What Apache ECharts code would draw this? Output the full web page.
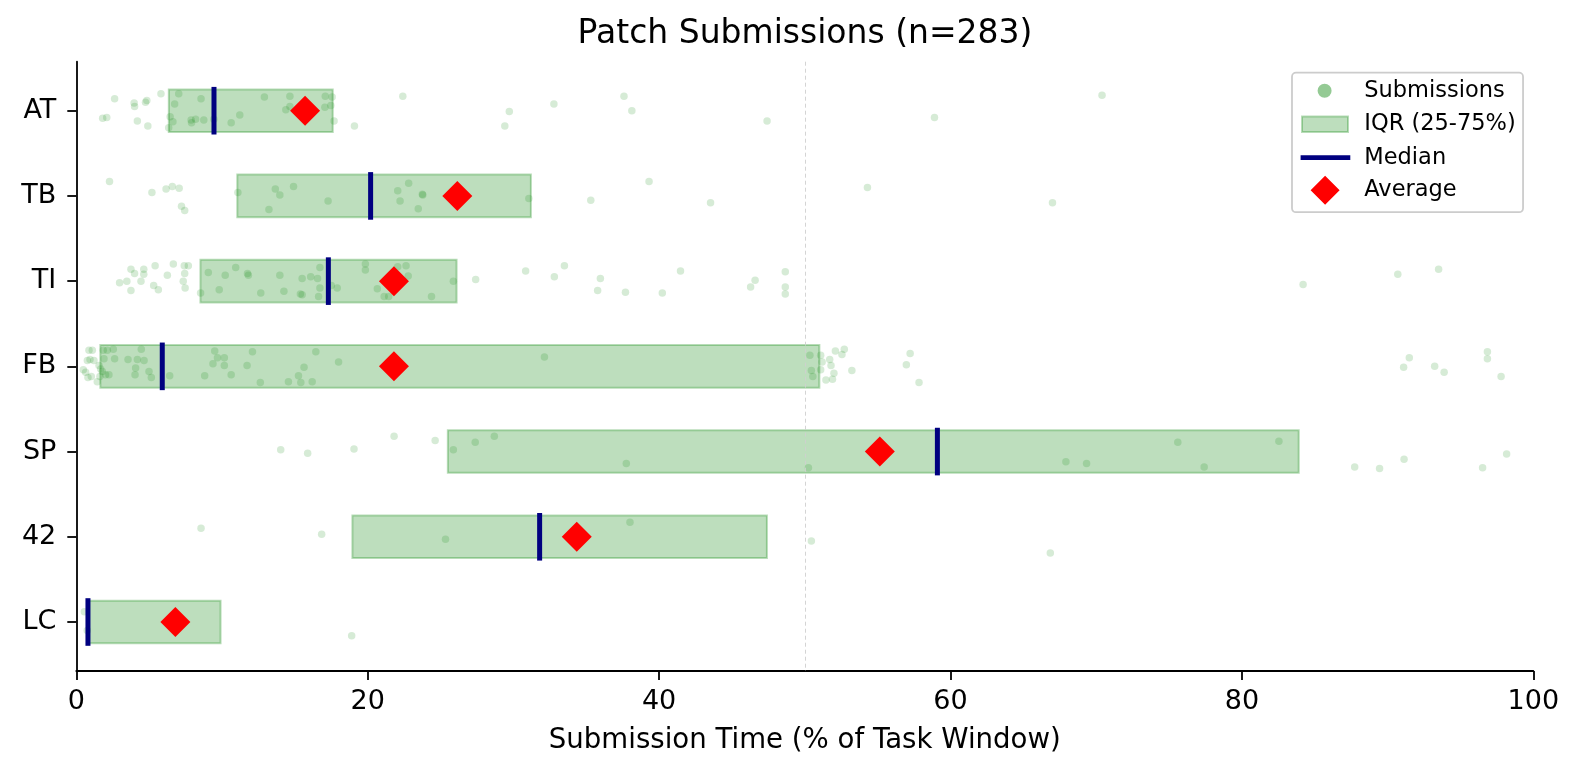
<!DOCTYPE html>
<html>
<head>
<meta charset="utf-8">
<script src="https://cdn.jsdelivr.net/npm/echarts@6/dist/echarts.min.js"></script>
<style>
html,body{margin:0;padding:0;background:#fff;}
#chart{width:1580px;height:776px;}
</style>
</head>
<body>
<div id="chart"></div>
<script>
// Categories, top to bottom
const categories = ['AT', 'TB', 'TI', 'FB', 'SP', '42', 'LC'];
// Box statistics (% of task window)
const q1Values     = [6.35, 11.05, 8.52, 1.65, 25.5, 18.95, 0.8];
const q3Values     = [17.6, 31.2, 26.1, 51.0, 83.9, 47.4, 9.9];
const medianValues = [9.45, 20.2, 17.3, 5.9, 59.1, 31.8, 0.8];
const meanValues   = [15.7, 26.15, 21.8, 21.8, 55.15, 34.35, 6.8];

// Individual submissions: [time %, vertical jitter in category units]
const ptsAT = [[2.63,-0.14],[3.97,-0.09],[4.0,-0.05],[4.75,-0.10],[4.84,-0.12],[5.81,-0.20],[7.03,-0.20],[6.75,-0.08],[8.56,-0.14],[12.91,-0.16],[14.66,-0.17],[14.66,-0.05],[17.09,-0.17],[17.56,-0.16],[17.47,-0.06],[17.06,-0.04],[14.38,-0.01],[11.22,0.05],[10.63,0.14],[6.44,0.07],[6.63,0.13],[7.88,0.11],[8.19,0.10],[8.75,0.11],[7.91,0.14],[9.44,0.10],[6.34,0.20],[17.69,0.12],[19.09,0.18],[1.81,0.09],[2.09,0.08],[4.19,0.12],[4.91,0.18],[22.41,-0.17],[29.72,0.01],[29.41,0.18],[32.78,-0.08],[37.59,-0.17],[38.13,0.0],[47.41,0.12],[70.4,-0.18],[58.9,0.08]];
const ptsTB = [[2.28,-0.17],[5.19,-0.04],[6.16,-0.08],[6.59,-0.11],[7.06,-0.09],[7.22,0.12],[7.44,0.17],[11.09,-0.04],[13.66,-0.08],[13.97,-0.01],[14.91,-0.11],[13.22,0.16],[17.28,0.06],[22.06,-0.06],[22.81,-0.15],[22.22,0.06],[23.78,-0.01],[23.75,-0.02],[23.47,0.15],[31.06,0.03],[35.31,0.05],[39.31,-0.17],[43.53,0.08],[54.3,-0.10],[67.0,0.08]];
const ptsTI = [[3.75,-0.14],[4.0,-0.09],[4.63,-0.14],[4.63,-0.08],[5.41,-0.18],[6.25,-0.07],[6.66,-0.20],[7.41,-0.18],[7.69,-0.18],[7.44,-0.09],[2.97,0.02],[3.47,0.0],[4.44,0.0],[3.75,0.11],[5.31,0.05],[5.63,0.10],[7.34,0.0],[7.47,0.08],[8.53,0.14],[9.06,-0.10],[10.22,-0.07],[10.94,-0.16],[11.75,-0.09],[11.81,-0.07],[13.97,-0.07],[15.5,-0.03],[16.09,-0.05],[16.72,-0.16],[16.56,-0.03],[16.72,0.08],[16.63,0.18],[15.5,0.16],[15.38,0.15],[14.25,0.12],[12.66,0.14],[9.81,0.10],[17.91,0.08],[17.5,0.05],[19.84,-0.20],[19.84,-0.13],[22.06,-0.17],[22.63,-0.18],[22.78,-0.06],[20.66,0.09],[21.13,0.18],[21.44,0.18],[24.38,0.18],[25.88,0.0],[27.41,-0.02],[30.84,-0.12],[32.81,-0.05],[33.5,-0.18],[35.97,-0.03],[35.78,0.11],[37.69,0.13],[40.22,0.14],[41.47,-0.12],[46.28,0.07],[46.59,-0.01],[48.66,-0.11],[48.66,0.07],[48.66,0.15],[84.2,0.04],[90.7,-0.08],[93.5,-0.14]];
const ptsFB = [[0.87,-0.19],[1.10,-0.19],[0.76,-0.07],[0.94,-0.08],[1.21,-0.07],[0.48,0.04],[0.64,0.07],[0.80,0.13],[1.03,0.12],[1.56,-0.01],[1.67,0.03],[1.79,0.06],[1.62,0.12],[2.01,0.10],[2.24,0.10],[1.85,-0.19],[2.13,-0.19],[2.54,-0.20],[2.63,-0.09],[1.90,-0.09],[3.55,-0.08],[4.19,-0.08],[4.07,0.02],[4.65,-0.07],[4.46,-0.20],[4.99,0.06],[5.15,0.13],[4.03,0.10],[6.41,0.11],[1.44,0.18],[8.81,0.11],[9.38,-0.03],[9.5,-0.18],[9.69,-0.10],[10.16,-0.10],[10.16,-0.01],[10.63,0.10],[11.72,-0.01],[12.09,-0.17],[12.63,0.19],[14.56,0.18],[15.41,0.19],[15.25,0.11],[15.63,0.01],[16.19,0.18],[16.44,-0.17],[18.0,-0.05],[32.13,-0.11],[50.35,-0.13],[51.09,-0.13],[51.19,-0.05],[51.71,-0.08],[51.8,-0.01],[52.1,-0.18],[52.55,-0.14],[52.71,-0.20],[50.45,0.05],[50.55,0.12],[51.09,0.04],[52.0,0.08],[51.45,0.16],[51.9,0.15],[53.23,0.05],[57.23,-0.15],[56.97,-0.02],[57.84,0.19],[91.49,-0.10],[91.1,0.01],[93.23,0.0],[93.88,0.07],[96.85,-0.17],[96.85,-0.09],[97.79,0.12]];
const ptsSP = [[14.03,-0.02],[15.88,0.02],[19.06,-0.03],[21.81,-0.18],[24.63,-0.13],[25.88,-0.02],[27.38,-0.11],[28.69,-0.18],[37.75,0.14],[50.25,0.19],[67.92,0.12],[69.34,0.14],[75.6,-0.11],[77.41,0.18],[82.54,-0.12],[87.74,0.18],[89.45,0.20],[91.13,0.09],[96.52,0.19],[98.17,0.03]];
const pts42 = [[8.56,-0.10],[16.84,-0.03],[25.34,0.03],[38.0,-0.17],[50.45,0.05],[66.85,0.19]];
const ptsLC = [[18.9,0.16],[0.55,-0.12],[0.75,0.10]];

const xTicks = [0, 20, 40, 60, 80, 100];
const referenceLineX = 50;

const pointGroups = [ptsAT, ptsTB, ptsTI, ptsFB, ptsSP, pts42, ptsLC];

const FONT = 'DejaVu Sans';
const pointData = [];
pointGroups.forEach((grp, ci) => grp.forEach(p => pointData.push([p[0], ci + p[1]])));
const boxData = categories.map((c, i) => [q1Values[i], q3Values[i], i]);
const medianData = categories.map((c, i) => [medianValues[i], i]);
const meanData = categories.map((c, i) => [meanValues[i], i]);
const catIdx = categories.map((c, i) => i);

const A = 'M0,0L0.01,0M59,30L58.99,30';
const iconCircle = 'path://' + A + 'M17.3,15A7,7,0,1,0,31.3,15A7,7,0,1,0,17.3,15Z';
const iconRect = 'path://' + A + 'M1.7,7.2L47.7,7.2L47.7,22.8L1.7,22.8Z';
const iconLine = 'path://' + A + 'M0.3,12.65L50,12.65L50,17.35L0.3,17.35Z';
const iconDiamond = 'path://' + A + 'M24.8,0.5L39.3,15L24.8,29.5L10.3,15Z';

const chart = echarts.init(document.getElementById('chart'), null, {renderer: 'canvas'});
chart.setOption({
  animation: false,
  backgroundColor: '#ffffff',
  textStyle: {fontFamily: FONT},
  title: {
    text: 'Patch Submissions (n=283)',
    left: 800, top: 12.5, textAlign: 'center',
    textStyle: {fontSize: 33, fontWeight: 'normal', color: '#000', fontFamily: FONT}
  },
  legend: {
    orient: 'vertical', left: 1292, top: 72.7,
    padding: [3, 7.3, 7, 7.3],
    itemWidth: 59, itemHeight: 30, itemGap: 2.5,
    backgroundColor: 'rgba(255,255,255,0.8)',
    borderColor: '#cccccc', borderWidth: 1.8, borderRadius: 4,
    textStyle: {fontSize: 22.5, color: '#000', fontFamily: FONT},
    data: [
      {name: 'Submissions', icon: iconCircle, itemStyle: {color: 'rgba(0,128,0,0.42)', borderWidth: 0, opacity: 1}},
      {name: 'IQR (25-75%)', icon: iconRect, itemStyle: {color: 'rgba(0,128,0,0.26)', borderColor: 'rgba(0,128,0,0.28)', borderWidth: 2, opacity: 1}},
      {name: 'Median', icon: iconLine, itemStyle: {color: '#000080', borderWidth: 0, opacity: 1}},
      {name: 'Average', icon: iconDiamond, itemStyle: {color: '#ff0000', borderWidth: 0, opacity: 1}}
    ]
  },
  grid: {left: 76.3, right: 46.7, top: 61.7, bottom: 105, containLabel: false},
  xAxis: {
    type: 'value', min: xTicks[0], max: xTicks[xTicks.length - 1], interval: 20,
    name: 'Submission Time (% of Task Window)', nameLocation: 'middle', nameGap: 56,
    nameTextStyle: {fontSize: 27.6, color: '#000', fontFamily: FONT},
    axisLine: {show: true, onZero: false, lineStyle: {color: '#000', width: 1.8}},
    axisTick: {show: true, length: 9, lineStyle: {color: '#000', width: 1.8}},
    axisLabel: {fontSize: 27, color: '#000', margin: 17, fontFamily: FONT},
    splitLine: {show: false}
  },
  yAxis: {
    type: 'value', min: -0.575, max: 6.575, inverse: true,
    axisLine: {show: true, onZero: false, lineStyle: {color: '#000', width: 1.8}},
    axisTick: {show: true, length: 9, customValues: catIdx, lineStyle: {color: '#000', width: 1.8}},
    axisLabel: {fontSize: 27, color: '#000', margin: 20, fontFamily: FONT, customValues: catIdx,
      formatter: v => categories[Math.round(v)] ?? ''},
    splitLine: {show: false}
  },
  series: [
    {
      name: 'ref50', type: 'line', data: [], z: 0, silent: true,
      markLine: {
        silent: true, symbol: ['none', 'none'], label: {show: false},
        lineStyle: {color: '#cfcfcf', width: 0.9, type: [4, 3]},
        data: [{xAxis: referenceLineX}]
      }
    },
    {
      name: 'IQR (25-75%)', type: 'custom', z: 1,
      itemStyle: {color: 'rgba(0,128,0,0.26)'},
      encode: {x: [0, 1], y: 2},
      data: boxData,
      renderItem: (params, api) => {
        const i = api.value(2);
        const p0 = api.coord([api.value(0), i - 0.25]);
        const p1 = api.coord([api.value(1), i + 0.25]);
        return {
          type: 'rect',
          shape: {x: p0[0], y: Math.min(p0[1], p1[1]), width: p1[0] - p0[0], height: Math.abs(p1[1] - p0[1])},
          style: {fill: 'rgba(0,128,0,0.26)', stroke: 'rgba(0,128,0,0.28)', lineWidth: 2}
        };
      }
    },
    {
      name: 'Submissions', type: 'scatter', z: 2,
      symbol: 'circle', symbolSize: 7.5,
      itemStyle: {color: 'rgba(0,128,0,0.16)', opacity: 1},
      data: pointData
    },
    {
      name: 'Median', type: 'custom', z: 3,
      itemStyle: {color: '#000080'},
      encode: {x: 0, y: 1},
      data: medianData,
      renderItem: (params, api) => {
        const i = api.value(1);
        const a = api.coord([api.value(0), i - 0.25]);
        const b = api.coord([api.value(0), i + 0.25]);
        return {
          type: 'line',
          shape: {x1: a[0], y1: a[1], x2: b[0], y2: b[1]},
          style: {stroke: '#000080', lineWidth: 5, lineCap: 'square'}
        };
      }
    },
    {
      name: 'Average', type: 'scatter', z: 4,
      symbol: 'diamond', symbolSize: [30, 30],
      itemStyle: {color: '#ff0000', opacity: 1},
      data: meanData
    }
  ]
});
</script>
</body>
</html>
